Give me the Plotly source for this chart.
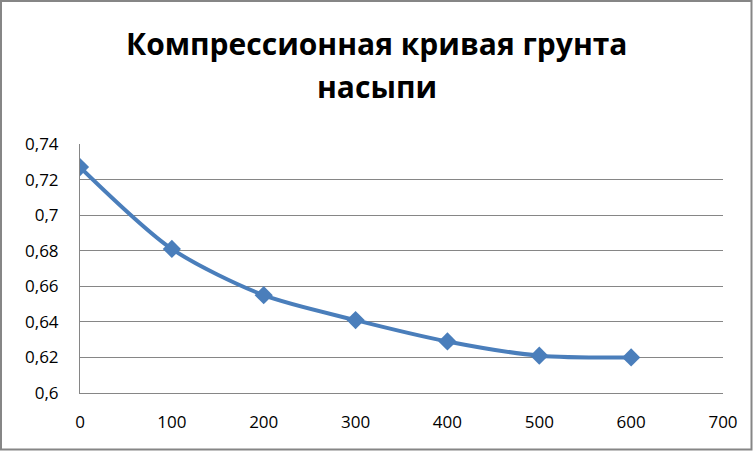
import plotly.graph_objects as go

pressure = [0, 100, 200, 300, 400, 500, 600]
void_ratio = [0.727, 0.681, 0.655, 0.641, 0.629, 0.621, 0.620]
title_lines = ["Компрессионная кривая грунта", "насыпи"]

W, H = 753, 451
L, R, T, B = 80, 30, 144, 58
pw, ph = W - L - R, H - T - B

fig = go.Figure()
fig.add_trace(go.Scatter(
    x=pressure, y=void_ratio, mode="lines+markers",
    line=dict(color="#4a7ebb", width=4, shape="spline", smoothing=0.8),
    marker=dict(symbol="diamond", size=14, color="#4a7ebb"),
    showlegend=False,
))

def px2paper_x(p):
    return (p - L) / pw

def px2paper_y(p):
    return (H - B - p) / ph

fig.add_shape(type="rect", xref="paper", yref="paper",
              x0=px2paper_x(1), x1=px2paper_x(751.5),
              y0=px2paper_y(449.5), y1=px2paper_y(1),
              line=dict(color="#868686", width=2), fillcolor="rgba(0,0,0,0)", layer="below")

for txt, ypx in zip(title_lines, [43, 86]):
    fig.add_annotation(text=txt, xref="paper", yref="paper",
                       x=px2paper_x(376.5), y=px2paper_y(ypx),
                       xanchor="center", yanchor="middle", showarrow=False,
                       font=dict(family="Open Sans", size=30, color="#000000", weight="bold"))

fig.update_layout(
    width=W, height=H,
    margin=dict(l=L, r=R, t=T, b=B, autoexpand=False),
    paper_bgcolor="white", plot_bgcolor="white",
    separators=", ",
    font=dict(family="Open Sans", color="#000000"),
    xaxis=dict(range=[0, 700], tickmode="linear", tick0=0, dtick=100,
               showgrid=False, showline=True, linecolor="#868686", linewidth=1,
               zeroline=False, ticks="", ticklabelstandoff=14,
               tickfont=dict(size=17, color="#000000")),
    yaxis=dict(range=[0.6, 0.74], tickmode="linear", tick0=0.6, dtick=0.02,
               showgrid=True, gridcolor="#868686", gridwidth=1,
               showline=True, linecolor="#868686", linewidth=1,
               zeroline=False, ticks="", ticklabelstandoff=17,
               tickfont=dict(size=17, color="#000000")),
)

fig.write_html("out.html", config={"displayModeBar": False},
               post_script="document.body.style.margin='0';")
